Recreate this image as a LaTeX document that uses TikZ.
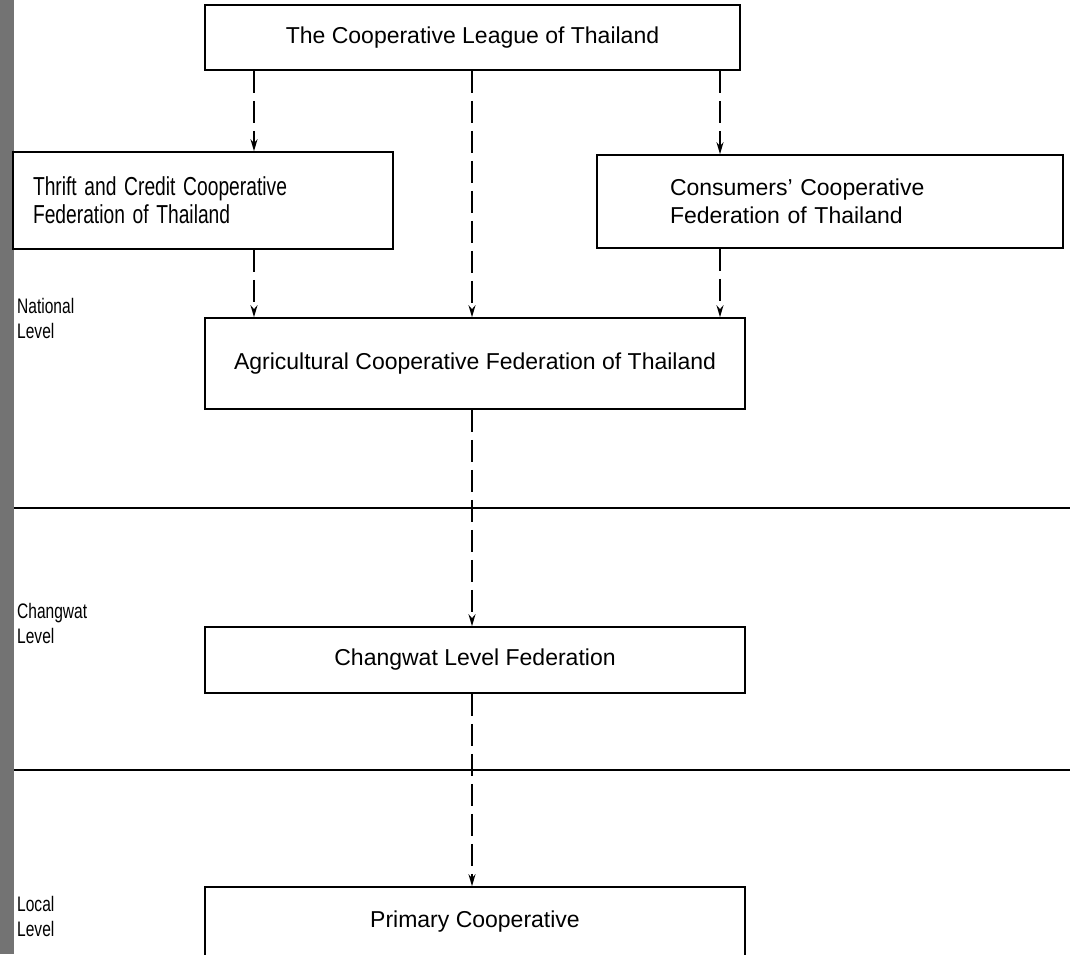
\documentclass[tikz,border=0pt]{standalone}
\usepackage{fontspec}
\setmainfont{Liberation Sans}
\newfontfamily\narrowsans[FakeStretch=0.74]{Liberation Sans}
\usetikzlibrary{arrows.meta}

\begin{document}
\begin{tikzpicture}[x=1pt, y=-1pt,
    box/.style={draw, line width=1.6pt, inner sep=0pt, font=\fontsize{23}{28}\selectfont},
    flow/.style={line width=1.7pt, dash pattern=on 22pt off 8pt, -{Stealth[length=12pt,width=7pt]}},
    level/.style={font=\narrowsans\fontsize{21}{25}\selectfont, align=left, anchor=west, inner sep=0pt},
    divider/.style={line width=1.4pt}]

  \useasboundingbox (0,0) rectangle (1070,954);

  % scanned page edge
  \fill[black!55] (0,0) rectangle (14,954);

  % columns of the connectors
  \coordinate (colL) at (254,0);
  \coordinate (colM) at (472,0);
  \coordinate (colR) at (720,0);

  % Draw national level boxes
  \node[box, minimum width=535pt, minimum height=65pt] (league) at (472.5,37.5)
    {The Cooperative League of Thailand};
  \node[box, minimum width=380pt, minimum height=97pt, text width=340pt, align=left] (thrift) at (203,200.5)
    {\narrowsans\fontsize{26}{29}\selectfont Thrift and Credit Cooperative\\Federation of Thailand};
  \node[box, minimum width=466pt, minimum height=93pt, text width=320pt, align=left] (consumers) at (830,201.5)
    {Consumers' Cooperative\\Federation of Thailand};
  \node[box, minimum width=540pt, minimum height=91pt] (agri) at (475,363.5)
    {Agricultural Cooperative Federation of Thailand};

  % Draw changwat and local level boxes
  \node[box, minimum width=540pt, minimum height=66pt] (changwat) at (475,660)
    {Changwat Level Federation};
  \node[box, minimum width=540pt, minimum height=70pt] (primary) at (475,922)
    {Primary Cooperative};

  % Draw level dividers
  \draw[divider] (14,508) -- (1070,508);
  \draw[divider] (14,770) -- (1070,770);

  % Draw level labels
  \node[level] (national) at (17,318) {National\\Level};
  \node[level] (changwatlvl) at (17,623) {Changwat\\Level};
  \node[level] (local) at (17,916) {Local\\Level};

  % Draw connectors
  \draw[flow] (league.south -| colL) -- (thrift.north -| colL);
  \draw[flow] (league.south -| colM) -- (agri.north -| colM);
  \draw[flow] (league.south -| colR) -- (consumers.north -| colR);
  \draw[flow] (thrift.south -| colL) -- (agri.north -| colL);
  \draw[flow] (consumers.south -| colR) -- (agri.north -| colR);
  \draw[flow] (agri.south -| colM) -- (changwat.north -| colM);
  \draw[flow] (changwat.south -| colM) -- (primary.north -| colM);

\end{tikzpicture}
\end{document}
